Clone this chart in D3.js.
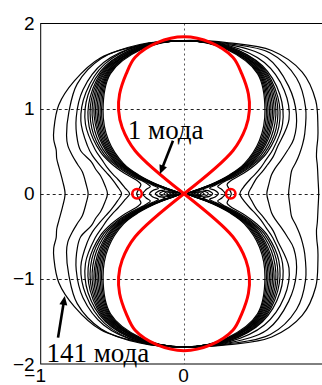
<!DOCTYPE html>
<html><head><meta charset="utf-8">
<script src="https://cdn.jsdelivr.net/npm/d3@7"></script>
<style>html,body{margin:0;padding:0;background:#fff;overflow:hidden}</style>
</head><body>
<svg id="c" width="322" height="385"></svg>
<script>
// ---- data ----
const xTicks = [-1, 0];
const yTicks = [-2, -1, 0, 1, 2];
const gridY = [-1, 0, 1];
const gridX = [0];
// polar angles (deg from +y axis) at which radii were read
const angles = [0, 10, 20, 30, 40, 50, 55, 60, 65, 70, 80, 90];
// black curves, left half (outermost = 141 mode ... innermost)
const blackLeft = [
  [1.80,1.77,1.70,1.53,1.36,1.185,1.11,1.03,0.98,0.93,0.86,0.83],
  [1.80,1.78,1.69,1.49,1.25,1.07,0.99,0.90,0.82,0.755,0.695,0.669],
  [1.80,1.77,1.64,1.41,1.17,0.97,0.88,0.745,0.68,0.62,0.56,0.534],
  [1.80,1.77,1.62,1.37,1.12,0.88,0.78,0.68,0.60,0.54,0.47,0.436],
  [1.80,1.76,1.60,1.34,1.07,0.81,0.70,0.62,0.55,0.49,0.42,0.38],
  [1.80,1.76,1.59,1.31,1.03,0.76,0.62,0.48,0.36,0.32,0.32,0.33],
  [1.80,1.75,1.58,1.29,1.00,0.73,0.58,0.42,0.29,0.25,0.27,0.287],
  [1.80,1.75,1.57,1.27,0.97,0.70,0.55,0.38,0.24,0.19,0.22,0.24],
  [1.80,1.74,1.56,1.25,0.94,0.67,0.52,0.35,0.19,0.14,0.18,0.20],
  [1.80,1.74,1.55,1.23,0.92,0.65,0.49,0.32,0.15,0.10,0.15,0.17],
  [1.80,1.74,1.54,1.21,0.90,0.63,0.47,0.29,0.12,0.07,0.12,0.14],
  [1.80,1.73,1.53,1.19,0.88,0.61,0.45,0.27,0.10,0.05,0.10,0.12],
  [1.80,1.73,1.52,1.17,0.86,0.59,0.43,0.25,0.08,0.04,0.08,0.10],
  [1.80,1.73,1.51,1.15,0.84,0.57,0.41,0.23,0.06,0.03,0.06,0.08],
  [1.80,1.72,1.50,1.13,0.82,0.55,0.39,0.21,0.05,0.02,0.05,0.06]
];
// black curves, right half
const blackRight = [
  [1.80,1.80,1.79,1.65,1.43,1.22,1.14,1.07,1.02,0.99,0.95,0.94],
  [1.80,1.79,1.76,1.57,1.32,1.10,1.01,0.93,0.86,0.80,0.75,0.73],
  [1.80,1.78,1.70,1.46,1.22,1.00,0.88,0.78,0.70,0.65,0.60,0.578],
  [1.80,1.77,1.64,1.40,1.14,0.85,0.76,0.67,0.60,0.54,0.48,0.45],
  [1.80,1.76,1.60,1.34,1.07,0.81,0.70,0.62,0.55,0.49,0.42,0.39],
  [1.80,1.76,1.59,1.31,1.03,0.76,0.62,0.48,0.36,0.32,0.32,0.33],
  [1.80,1.75,1.58,1.29,1.00,0.73,0.58,0.42,0.29,0.25,0.27,0.287],
  [1.80,1.75,1.57,1.27,0.97,0.70,0.55,0.38,0.24,0.19,0.22,0.24],
  [1.80,1.74,1.56,1.25,0.94,0.67,0.52,0.35,0.19,0.14,0.18,0.20],
  [1.80,1.74,1.55,1.23,0.92,0.65,0.49,0.32,0.15,0.10,0.15,0.17],
  [1.80,1.74,1.54,1.21,0.90,0.63,0.47,0.29,0.12,0.07,0.12,0.14],
  [1.80,1.73,1.53,1.19,0.88,0.61,0.45,0.27,0.10,0.05,0.10,0.12],
  [1.80,1.73,1.52,1.17,0.86,0.59,0.43,0.25,0.08,0.04,0.08,0.10],
  [1.80,1.73,1.51,1.15,0.84,0.57,0.41,0.23,0.06,0.03,0.06,0.08],
  [1.80,1.72,1.50,1.13,0.82,0.55,0.39,0.21,0.05,0.02,0.05,0.06]
];
// red curve (1 mode): main lobe radii, and small side lobes on the x axis
const redAngles = [0, 6, 12, 16, 21, 25, 29, 34];
const redRadii  = [1.843, 1.786, 1.64, 1.464, 1.254, 1.08, 0.89, 0.61];
const redSideX = [-0.328, 0.326];
const redSideHalfWidth = 0.033;
const redSideHalfHeight = 0.056;
// annotations (data coordinates)
const labelText = ["1 мода", "141 мода"];
const labelX = [-0.392, -0.96];
const labelY = [0.646, -1.975];
const arrowFrom = [[-0.077, 0.622], [-0.879, -1.69]];
const arrowTo   = [[-0.168, 0.231], [-0.832, -1.20]];

// ---- drawing ----
const svg = d3.select("#c");
const x = d3.scaleLinear().domain([-1, 1]).range([40.7, 327.3]);
const y = d3.scaleLinear().domain([-2, 2]).range([364, 23.5]);
const rad = Math.PI / 180;

// grid
svg.append("g").selectAll("line").data(gridY).join("line")
  .attr("x1", x(-1)).attr("x2", x(1))
  .attr("y1", d => Math.round(y(d)) + 0.5).attr("y2", d => Math.round(y(d)) + 0.5)
  .attr("stroke", "#222").attr("stroke-width", 1).attr("stroke-dasharray", "3,3");
svg.append("g").selectAll("line").data(gridX).join("line")
  .attr("x1", d => Math.round(x(d)) + 0.5).attr("x2", d => Math.round(x(d)) + 0.5)
  .attr("y1", y(2)).attr("y2", y(-2))
  .attr("stroke", "#555").attr("stroke-width", 1).attr("stroke-dasharray", "2,3");

// black curves
function blackPoints(L, R) {
  const n = angles.length, p = [];
  for (let i = 0; i < n; i++) p.push([R[i] * Math.sin(angles[i] * rad), R[i] * Math.cos(angles[i] * rad)]);
  for (let i = n - 2; i >= 0; i--) p.push([R[i] * Math.sin(angles[i] * rad), -R[i] * Math.cos(angles[i] * rad)]);
  for (let i = 1; i < n; i++) p.push([-L[i] * Math.sin(angles[i] * rad), -L[i] * Math.cos(angles[i] * rad)]);
  for (let i = n - 2; i >= 1; i--) p.push([-L[i] * Math.sin(angles[i] * rad), L[i] * Math.cos(angles[i] * rad)]);
  return p;
}
const closedLine = d3.line().x(d => x(d[0])).y(d => y(d[1])).curve(d3.curveCatmullRomClosed.alpha(0.5));
svg.append("g").selectAll("path").data(blackLeft.map((L, i) => blackPoints(L, blackRight[i]))).join("path")
  .attr("d", closedLine).attr("fill", "none").attr("stroke", "#000").attr("stroke-width", 1.2);

// red curve
function redLobe(s) {
  const n = redAngles.length, p = [[0, 0]];
  for (let i = n - 1; i >= 0; i--) p.push([-redRadii[i] * Math.sin(redAngles[i] * rad), s * redRadii[i] * Math.cos(redAngles[i] * rad)]);
  for (let i = 1; i < n; i++) p.push([redRadii[i] * Math.sin(redAngles[i] * rad), s * redRadii[i] * Math.cos(redAngles[i] * rad)]);
  p.push([0, 0]);
  return p;
}
const openLine = d3.line().x(d => x(d[0])).y(d => y(d[1])).curve(d3.curveCatmullRom.alpha(0.5));
svg.append("g").selectAll("path").data([redLobe(1), redLobe(-1)]).join("path")
  .attr("d", openLine).attr("fill", "none").attr("stroke", "#f00").attr("stroke-width", 3)
  .attr("stroke-linejoin", "round");
svg.append("g").selectAll("ellipse").data(redSideX).join("ellipse")
  .attr("cx", d => x(d)).attr("cy", y(0))
  .attr("rx", d => x(d + redSideHalfWidth) - x(d)).attr("ry", y(0) - y(redSideHalfHeight))
  .attr("fill", "none").attr("stroke", "#f00").attr("stroke-width", 2.6);

// box
svg.append("rect").attr("x", x(-1)).attr("y", y(2)).attr("width", x(1) - x(-1)).attr("height", y(-2) - y(2))
  .attr("fill", "none").attr("stroke", "#000").attr("stroke-width", 1);

// axes
const gx = svg.append("g").attr("transform", `translate(0,${y(-2)})`)
  .call(d3.axisBottom(x).tickValues(xTicks).tickSize(0).tickPadding(5).tickFormat(d3.format("d")));
const gy = svg.append("g").attr("transform", `translate(${x(-1)},0)`)
  .call(d3.axisLeft(y).tickValues(yTicks).tickSize(0).tickPadding(6).tickFormat(d3.format("d")));
[gx, gy].forEach(g => {
  g.select(".domain").remove();
  g.selectAll("text").attr("font-family", "'Liberation Sans', Arial, sans-serif").attr("font-size", 19).attr("fill", "#000");
});
gx.selectAll("text").attr("dx", d => d < 0 ? -6 : -1);

// arrows
arrowFrom.forEach((f, i) => {
  const t = arrowTo[i];
  const x1 = x(f[0]), y1 = y(f[1]), x2 = x(t[0]), y2 = y(t[1]);
  const dx = x2 - x1, dy = y2 - y1, len = Math.hypot(dx, dy), ux = dx / len, uy = dy / len;
  const hl = 9, hw = 4;
  const bx = x2 - ux * hl, by = y2 - uy * hl;
  svg.append("line").attr("x1", x1).attr("y1", y1).attr("x2", bx + ux * 2).attr("y2", by + uy * 2)
    .attr("stroke", "#000").attr("stroke-width", 2.6);
  svg.append("path").attr("d", `M${x2},${y2}L${bx - uy * hw},${by + ux * hw}L${bx + uy * hw},${by - ux * hw}Z`)
    .attr("fill", "#000");
});

// labels
svg.append("g").selectAll("text").data(labelText).join("text")
  .attr("x", (d, i) => x(labelX[i])).attr("y", (d, i) => y(labelY[i]))
  .attr("font-family", "'Liberation Serif', 'Times New Roman', serif").attr("font-size", 27)
  .attr("fill", "#000").text(d => d);
</script>
</body></html>
